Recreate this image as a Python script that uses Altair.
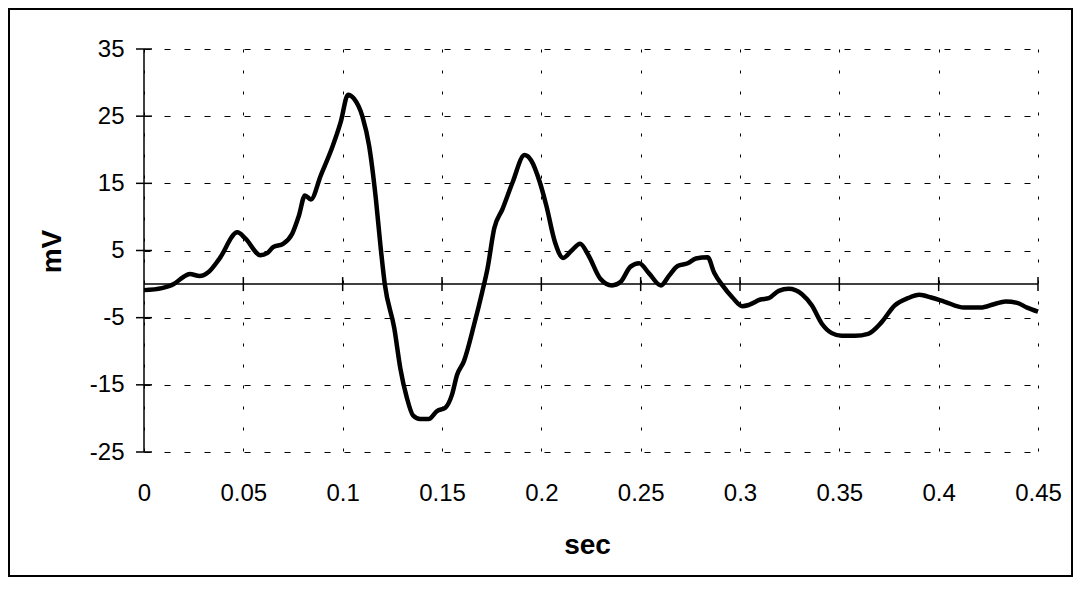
import altair as alt
import pandas as pd

# ---- data ----
t_sec = [0.000, 0.009, 0.015, 0.020, 0.023, 0.028, 0.0325, 0.038, 0.047, 0.051,
         0.0586, 0.062, 0.065, 0.070, 0.0746, 0.078, 0.081, 0.084, 0.089, 0.0948,
         0.099, 0.1027, 0.1057, 0.110, 0.1133, 0.1167, 0.119, 0.1212, 0.126, 0.129,
         0.1322, 0.1355, 0.1390, 0.1432, 0.1475, 0.1517, 0.155, 0.1576, 0.161, 0.1661,
         0.1703, 0.1729, 0.1763, 0.1805, 0.1856, 0.1915, 0.1949, 0.1992, 0.2025, 0.2068,
         0.211, 0.2153, 0.2195, 0.2237, 0.2297, 0.2356, 0.2398, 0.2449, 0.2492, 0.2542,
         0.2602, 0.2644, 0.2686, 0.2737, 0.2778, 0.2837, 0.287, 0.2912, 0.2962, 0.3012,
         0.3045, 0.3103, 0.3145, 0.3195, 0.3245, 0.3312, 0.3362, 0.3412, 0.3462, 0.3512,
         0.3578, 0.3645, 0.3712, 0.3778, 0.3845, 0.3903, 0.3962, 0.4028, 0.4128, 0.4212,
         0.4278, 0.4337, 0.4395, 0.4445, 0.450]
mv = [-0.9, -0.6, 0.0, 1.1, 1.5, 1.2, 1.8, 3.8, 7.7, 6.8,
      4.3, 4.6, 5.5, 6.0, 7.5, 10.2, 13.2, 12.6, 16.2, 20.4,
      24.1, 28.2, 27.6, 24.9, 20.6, 12.7, 5.8, 0.0, -6.6, -12.5,
      -16.8, -19.6, -20.1, -20.1, -18.9, -18.4, -16.5, -13.5, -11.5, -6.1,
      -1.1, 2.3, 8.3, 11.2, 15.2, 19.2, 18.4, 15.2, 11.7, 6.3,
      3.9, 5.0, 6.0, 4.3, 0.8, -0.2, 0.3, 2.6, 3.1, 1.6,
      -0.2, 1.3, 2.7, 3.1, 3.8, 4.0, 1.7, -0.2, -2.0, -3.3,
      -3.1, -2.3, -2.1, -1.0, -0.7, -1.5, -3.2, -5.9, -7.3, -7.7,
      -7.7, -7.4, -5.7, -3.2, -2.1, -1.6, -2.0, -2.6, -3.5, -3.5,
      -3.0, -2.6, -2.8, -3.5, -4.1]
x_ticks = [0, 0.05, 0.1, 0.15, 0.2, 0.25, 0.3, 0.35, 0.4, 0.45]
y_ticks = [-25, -15, -5, 5, 15, 25, 35]
x_title = "sec"
y_title = "mV"

FONT = "Liberation Sans"

df = pd.DataFrame({"t": t_sec, "v": mv})
xs = alt.Scale(domain=[0, 0.45], nice=False, zero=False)
ys = alt.Scale(domain=[-25, 35], nice=False, zero=False)

x_axis = alt.Axis(values=x_ticks, labelExpr="'' + datum.value", title=x_title, grid=True,
                  gridDash=[3, 18], gridColor="black", gridOpacity=1, gridWidth=1,
                  domain=False, ticks=False, labelFont=FONT, labelFontSize=24,
                  labelPadding=29, labelColor="black", labelFlush=False, labelOverlap=False,
                  titleFont=FONT, titleFontSize=28, titleFontWeight="bold", titleColor="black",
                  titleX=443, titleY=101, titleBaseline="alphabetic", titleAlign="center")
y_axis = alt.Axis(values=y_ticks, labelExpr="'' + datum.value", title=y_title, grid=True,
                  gridDash=[6, 14], gridColor="black", gridOpacity=1, gridWidth=1,
                  domain=False, ticks=False, labelFont=FONT, labelFontSize=24,
                  labelPadding=20, labelColor="black", labelFlush=False, labelOverlap=False,
                  titleFont=FONT, titleFontSize=28, titleFontWeight="bold", titleColor="black",
                  titleAngle=270, titleX=-84, titleY=202,
                  titleBaseline="alphabetic", titleAlign="center")

line = alt.Chart(df).mark_line(color="black", strokeWidth=4.5, interpolate="monotone").encode(
    x=alt.X("t:Q", scale=xs, axis=x_axis),
    y=alt.Y("v:Q", scale=ys, axis=y_axis),
)

zero_df = pd.DataFrame({"t": [0.0], "t2": [0.45], "v": [0.0]})
zero_line = alt.Chart(zero_df).mark_rule(color="black", strokeWidth=1.5).encode(
    x=alt.X("t:Q", scale=xs, axis=x_axis), x2="t2:Q",
    y=alt.Y("v:Q", scale=ys, axis=y_axis),
)

yline_df = pd.DataFrame({"t": [0.0], "v": [-25.0], "v2": [35.0]})
y_line = alt.Chart(yline_df).mark_rule(color="black", strokeWidth=1.5).encode(
    x=alt.X("t:Q", scale=xs, axis=x_axis),
    y=alt.Y("v:Q", scale=ys, axis=y_axis), y2="v2:Q",
)

xt_df = pd.DataFrame({"t": x_ticks[1:], "v": [0.0] * (len(x_ticks) - 1)})
x_tick_marks = alt.Chart(xt_df).mark_tick(color="black", orient="vertical", size=14,
                                          thickness=1.5, opacity=1).encode(
    x=alt.X("t:Q", scale=xs, axis=x_axis),
    y=alt.Y("v:Q", scale=ys, axis=y_axis),
)

yt_df = pd.DataFrame({"t": [0.0] * len(y_ticks), "v": y_ticks})
y_tick_marks = alt.Chart(yt_df).mark_tick(color="black", orient="horizontal", size=16,
                                          thickness=1.5, opacity=1).encode(
    x=alt.X("t:Q", scale=xs, axis=x_axis),
    y=alt.Y("v:Q", scale=ys, axis=y_axis),
)

frame = alt.Chart(pd.DataFrame({"k": [1]})).mark_rect(
    fill="transparent", stroke="black", strokeWidth=2, clip=False
).encode(
    x=alt.value(-135), x2=alt.value(928), y=alt.value(-40), y2=alt.value(527)
)

chart = alt.layer(line, zero_line, y_line, x_tick_marks, y_tick_marks, frame).properties(
    width=894, height=403,
    padding={"left": 136, "top": 41, "right": 35, "bottom": 126},
    autosize=alt.AutoSizeParams(type="none"),
    background="white",
).configure_view(stroke="transparent")

chart.save("out.html", embed_options={"renderer": "svg", "actions": False})
